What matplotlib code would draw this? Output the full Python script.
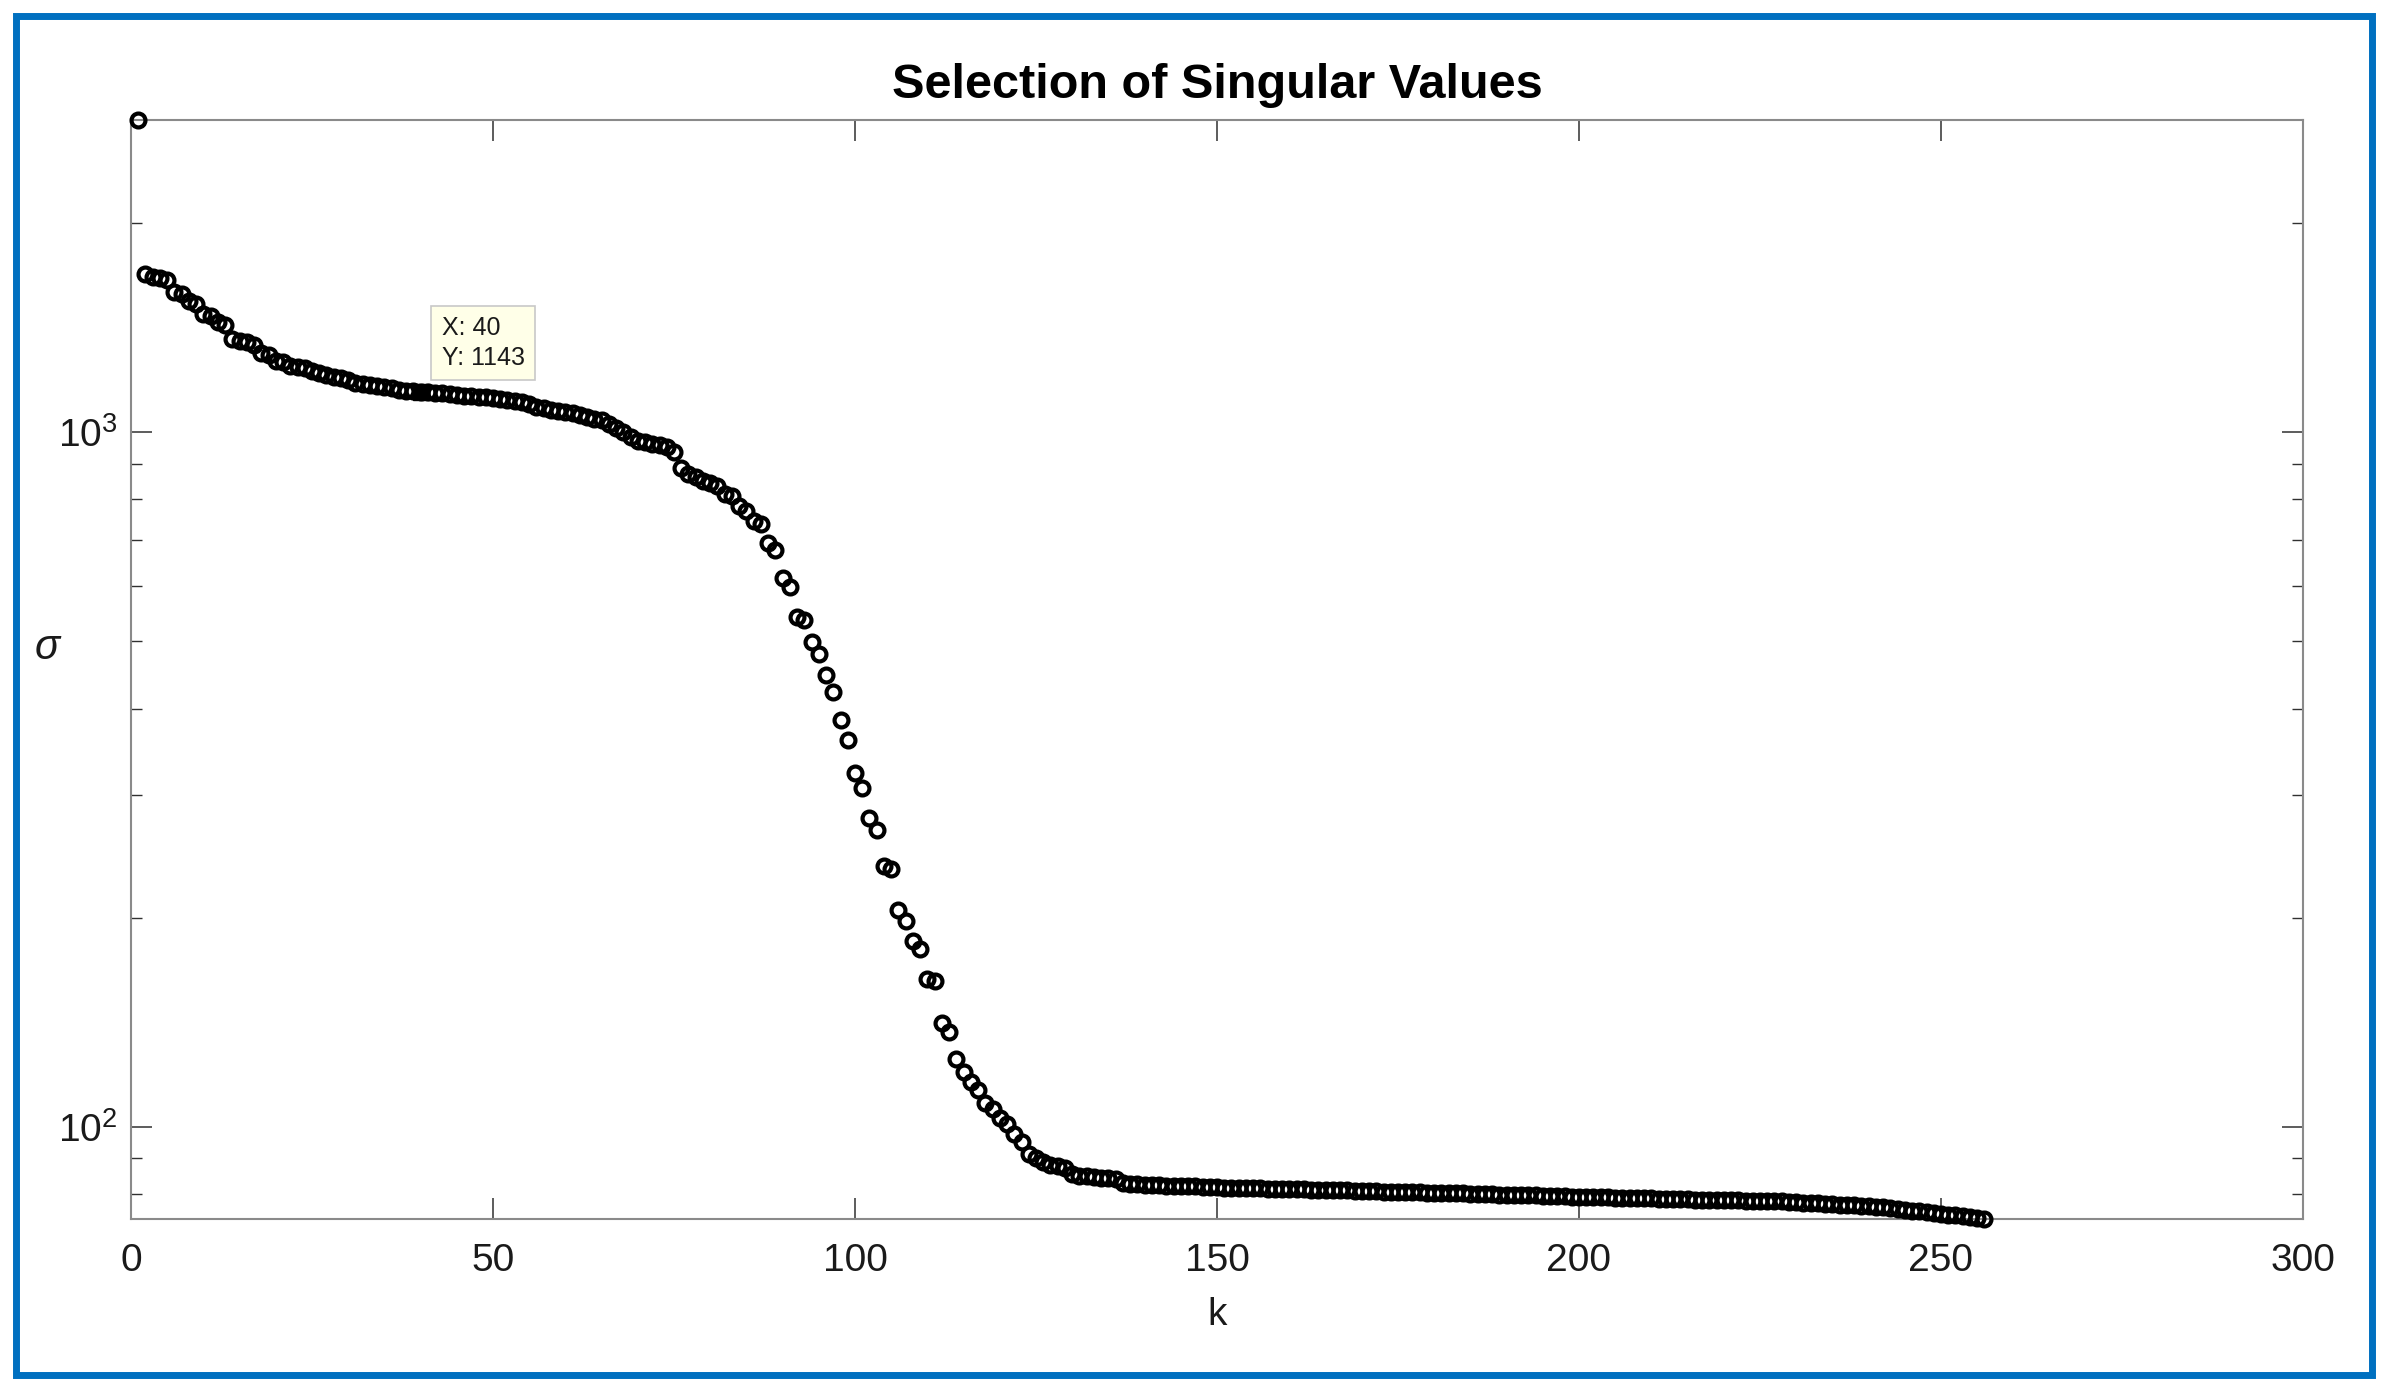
import numpy as np
import matplotlib
matplotlib.use("Agg")
import matplotlib.pyplot as plt
from matplotlib.patches import Rectangle
from matplotlib.ticker import LogLocator, NullFormatter, FixedLocator

plt.rcParams['font.family'] = ['Liberation Sans', 'DejaVu Sans']
plt.rcParams['mathtext.fontset'] = 'custom'
plt.rcParams['mathtext.rm'] = 'Liberation Sans'
plt.rcParams['mathtext.it'] = 'Liberation Sans:italic'
plt.rcParams['mathtext.bf'] = 'Liberation Sans:bold'

# ---------------- data ----------------
sigma_plateau = [2816, 1690, 1675, 1668, 1655, 1590, 1580, 1545, 1532, 1478,
                 1470, 1440, 1425, 1362, 1355, 1350, 1335, 1300, 1292, 1268,
                 1262, 1245, 1240, 1236, 1225, 1218, 1208, 1200, 1195, 1190,
                 1178, 1172, 1170, 1166, 1162, 1158, 1152, 1148, 1145, 1143,
                 1141, 1139, 1137, 1134, 1131, 1128, 1126, 1124, 1122, 1119,
                 1116, 1112, 1108, 1104, 1097, 1088, 1082, 1077, 1073, 1070,
                 1066, 1058, 1050, 1045, 1040, 1028, 1015, 1000, 985, 972,
                 968, 962, 958, 951, 936]
sigma_drop = [888, 872, 861, 852, 845, 838, 815, 808, 782, 770,
              745, 738, 692, 676, 616, 598, 541, 536, 498, 480,
              447, 422, 385, 360, 323, 307, 278, 267, 237, 235,
              205, 198, 185, 180, 163, 162, 141, 137, 125, 120,
              116, 113, 108, 106, 103, 101, 97.7, 95.0, 91.4, 90.0,
              88.8, 88.0, 87.6, 87.2, 85.5]
sigma_tail = [85.0, 84.8, 84.6, 84.4, 84.2, 84.0, 82.9, 82.7, 82.6, 82.5,
              82.4, 82.3, 82.2, 82.2, 82.1, 82.0, 82.0, 81.9, 81.9, 81.8,
              81.7, 81.7, 81.6, 81.6, 81.5, 81.5, 81.4, 81.4, 81.3, 81.3,
              81.2, 81.2, 81.1, 81.1, 81.0, 81.0, 80.9, 80.9, 80.8, 80.8,
              80.7, 80.7, 80.6, 80.6, 80.5, 80.5, 80.4, 80.4, 80.3, 80.3,
              80.2, 80.2, 80.1, 80.1, 80.0, 80.0, 79.9, 79.9, 79.8, 79.8,
              79.7, 79.7, 79.6, 79.6, 79.5, 79.5, 79.4, 79.4, 79.3, 79.3,
              79.2, 79.2, 79.1, 79.1, 79.0, 79.0, 78.9, 78.9, 78.8, 78.8,
              78.7, 78.7, 78.6, 78.6, 78.6, 78.5, 78.5, 78.4, 78.4, 78.4,
              78.3, 78.3, 78.2, 78.2, 78.1, 78.1, 78.0, 78.0, 77.9, 77.8,
              77.7, 77.6, 77.5, 77.4, 77.3, 77.2, 77.1, 77.0, 76.9, 76.8,
              76.6, 76.5, 76.3, 76.1, 75.9, 75.7, 75.5, 75.3, 75.1, 74.9,
              74.7, 74.5, 74.3, 74.1, 73.9, 73.6]

sigma = np.array(sigma_plateau + sigma_drop + sigma_tail, dtype=float)
k = np.arange(1, len(sigma) + 1)

x_ticks = [0, 50, 100, 150, 200, 250, 300]
y_major = [100, 1000]
tip_k = 40
title_text = "Selection of Singular Values"

# ---------------- figure ----------------
W, H = 2387, 1391
fig = plt.figure(figsize=(W / 100, H / 100), dpi=100)
fig.patch.set_facecolor('white')

ax = fig.add_axes([131 / W, 1 - 1219 / H, 2172 / W, 1099 / H])
ax.set_yscale('log')
ax.set_xlim(0, 300)
ax.set_ylim(sigma.min(), sigma.max())

ax.plot(k, sigma, linestyle='none', marker='o', markersize=10,
        markerfacecolor='none', markeredgecolor='black', markeredgewidth=3.0,
        clip_on=False, zorder=3)

# data tip
tip_y = sigma[tip_k - 1]
ax.plot([tip_k], [tip_y], marker='s', markersize=12, color='black',
        linestyle='none', zorder=4, clip_on=False)
ax.annotate(f"X: {tip_k}\nY: {tip_y:.0f}", xy=(tip_k, tip_y),
            xytext=(21, 22), textcoords='offset pixels',
            ha='left', va='bottom', fontsize=18, color='#1a1a1a',
            linespacing=1.3,
            bbox=dict(boxstyle='square,pad=0.42', facecolor='#FFFFE8',
                      edgecolor='#C8C8C8', linewidth=1.2), zorder=5)

# ticks
ax.xaxis.set_major_locator(FixedLocator(x_ticks))
ax.yaxis.set_major_locator(FixedLocator(y_major))
ax.yaxis.set_minor_locator(LogLocator(base=10, subs=np.arange(2, 10)))
ax.yaxis.set_minor_formatter(NullFormatter())
ax.set_yticklabels([r'$10^{2}$', r'$10^{3}$'])

ax.tick_params(which='both', direction='in', top=True, right=True,
               color='#303030', labelcolor='#1a1a1a')
ax.tick_params(which='major', length=15, width=1.1, labelsize=28)
ax.tick_params(which='minor', length=8, width=1.0)
ax.tick_params(axis='x', which='major', pad=17)
ax.tick_params(axis='y', which='major', pad=10)

for s in ax.spines.values():
    s.set_color('#8a8a8a')
    s.set_linewidth(1.5)

ax.set_title(title_text, fontsize=35, fontweight='bold', pad=16, color='black')
ax.set_xlabel('k', fontsize=28, va='center', color='#1a1a1a')
ax.xaxis.set_label_coords(0.5, (1219 - 1315) / 1099)
ax.set_ylabel(r'$\sigma$', fontsize=30, rotation=0, va='center', ha='center',
              color='#1a1a1a')
ax.yaxis.set_label_coords((48 - 131) / 2172, (1219 - 648) / 1099)

# blue frame
fig.add_artist(Rectangle((15.5 / W, 1 - 1374.5 / H), (2371.5 - 15.5) / W,
                         (1374.5 - 16) / H, transform=fig.transFigure,
                         fill=False, edgecolor='#0070C0', linewidth=5.0))

fig.savefig('out.png', dpi=100, facecolor='white')
